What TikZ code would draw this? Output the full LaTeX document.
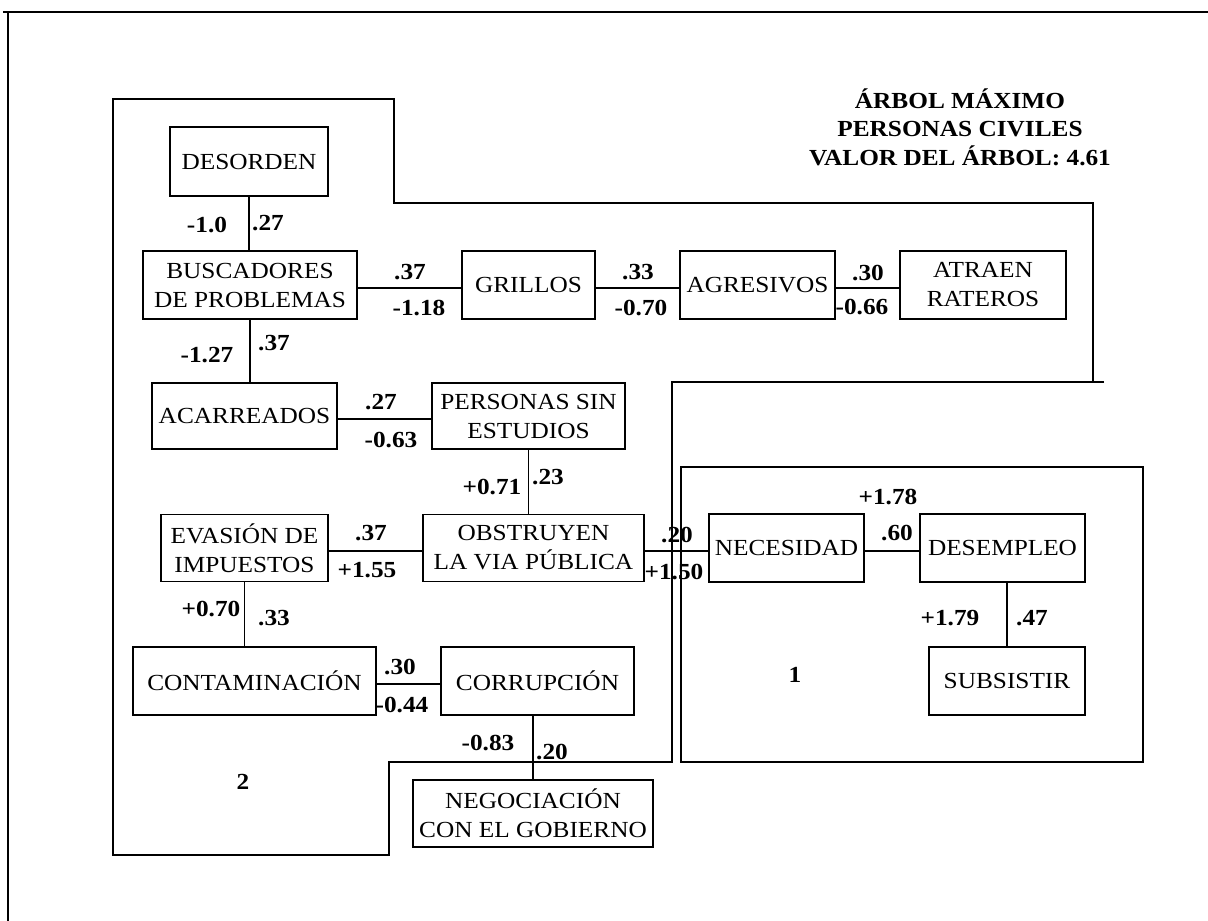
\documentclass[tikz,border=0pt]{standalone}
\usepackage{fontspec}
\setmainfont{Liberation Serif}[FakeStretch=1.1]
\begin{document}
\begin{tikzpicture}[x=1pt,y=-1pt,
  every node/.style={inner sep=0pt, outer sep=0pt},
  box/.style={draw, line width=1.4pt, align=center, font=\fontsize{23}{29}\selectfont},
  lbl/.style={font=\bfseries\fontsize{23}{28}\selectfont},
  conn/.style={line width=1.4pt},
  hconn/.style={line width=1.4pt, transform canvas={yshift=-3pt}},
  frame/.style={line width=1.6pt}]
\useasboundingbox (0,0) rectangle (1208,921);
% outer frame
\draw[line width=2pt] (3,12) -- (1208,12);
\draw[frame] (8,13) -- (8,921);
% title
\node[lbl, align=center, font=\bfseries\fontsize{23}{28.5}\selectfont] (title) at (960,127) {ÁRBOL MÁXIMO\\PERSONAS CIVILES\\VALOR DEL ÁRBOL: 4.61};
% regions
\draw[frame] (1104,382) -- (672,382) -- (672,762) -- (389,762) -- (389,855) -- (113,855) -- (113,99) -- (394,99) -- (394,203) -- (1093,203) -- (1093,382);
\draw[frame] (681,467) rectangle (1143,762);
% boxes
\node[box, minimum width=158pt, minimum height=69pt] (des) at (249,161.5) {DESORDEN};
\node[box, minimum width=214pt, minimum height=68pt] (bus) at (250,285) {BUSCADORES\\DE PROBLEMAS};
\node[box, minimum width=133pt, minimum height=68pt] (gri) at (528.5,285) {GRILLOS};
\node[box, minimum width=155pt, minimum height=68pt] (agr) at (757.5,285) {AGRESIVOS};
\node[box, minimum width=166pt, minimum height=68pt] (atr) at (983,285) {ATRAEN\\RATEROS};
\node[box, minimum width=185pt, minimum height=66pt] (aca) at (244.5,416) {ACARREADOS};
\node[box, minimum width=193pt, minimum height=66pt] (per) at (528.5,416) {PERSONAS SIN\\ESTUDIOS};
\node[box, minimum width=167pt, minimum height=67pt] (eva) at (244.5,548) {EVASIÓN DE\\IMPUESTOS};
\node[box, minimum width=221pt, minimum height=67pt] (obs) at (533.5,548) {OBSTRUYEN\\LA VIA PÚBLICA};
\node[box, minimum width=155pt, minimum height=68pt] (nec) at (786.5,548) {NECESIDAD};
\node[box, minimum width=165pt, minimum height=68pt] (dese) at (1002.5,548) {DESEMPLEO};
\node[box, minimum width=156pt, minimum height=68pt] (sub) at (1007,681) {SUBSISTIR};
\node[box, minimum width=243pt, minimum height=68pt] (con) at (254.5,681) {CONTAMINACIÓN};
\node[box, minimum width=193pt, minimum height=68pt] (cor) at (537.5,681) {CORRUPCIÓN};
\node[box, minimum width=240pt, minimum height=67pt] (neg) at (533,813.5) {NEGOCIACIÓN\\CON EL GOBIERNO};
% connectors
\draw[conn] (des.south) -- (des.south |- bus.north);
\draw[hconn] (bus.east) -- (gri.west);
\draw[hconn] (gri.east) -- (agr.west);
\draw[hconn] (agr.east) -- (atr.west);
\draw[conn] (bus.south) -- (bus.south |- aca.north);
\draw[hconn] (aca.east) -- (per.west);
\draw[conn] (per.south) -- (per.south |- obs.north);
\draw[hconn] (eva.east) -- (obs.west);
\draw[hconn] (obs.east) -- (nec.west);
\draw[hconn] (nec.east) -- (dese.west);
\draw[conn] (sub.north |- dese.south) -- (sub.north);
\draw[conn] (eva.south) -- (eva.south |- con.north);
\draw[hconn] (con.east) -- (cor.west);
\draw[conn] (neg.north |- cor.south) -- (neg.north);
% labels
\node[lbl] (l1) at (207,225) {-1.0};
\node[lbl] (l2) at (268,223) {.27};
\node[lbl] (l3) at (410,272) {.37};
\node[lbl] (l4) at (419,308) {-1.18};
\node[lbl] (l5) at (638,272) {.33};
\node[lbl] (l6) at (641,308) {-0.70};
\node[lbl] (l7) at (868,273) {.30};
\node[lbl] (l8) at (862,307) {-0.66};
\node[lbl] (l9) at (207,355) {-1.27};
\node[lbl] (l10) at (274,343) {.37};
\node[lbl] (l11) at (381,402) {.27};
\node[lbl] (l12) at (391,440) {-0.63};
\node[lbl] (l13) at (492,487) {+0.71};
\node[lbl] (l14) at (548,477) {.23};
\node[lbl] (l15) at (371,533) {.37};
\node[lbl] (l16) at (367,570) {+1.55};
\node[lbl] (l17) at (677,535) {.20};
\node[lbl] (l18) at (674,572) {+1.50};
\node[lbl] (l19) at (888,497) {+1.78};
\node[lbl] (l20) at (897,533) {.60};
\node[lbl] (l21) at (950,618) {+1.79};
\node[lbl] (l22) at (1032,618) {.47};
\node[lbl] (l23) at (211,609) {+0.70};
\node[lbl] (l24) at (274,618) {.33};
\node[lbl] (l25) at (400,667) {.30};
\node[lbl] (l26) at (402,705) {-0.44};
\node[lbl] (l27) at (488,743) {-0.83};
\node[lbl] (l28) at (552,752) {.20};
\node[lbl] (r1) at (795,675) {1};
\node[lbl] (r2) at (243,782) {2};
\end{tikzpicture}
\end{document}
